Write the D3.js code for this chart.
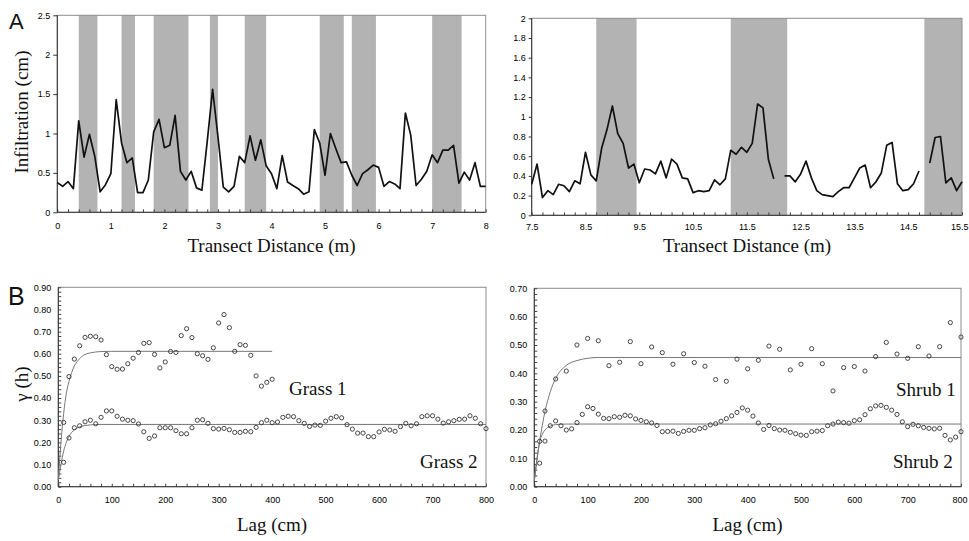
<!DOCTYPE html>
<html>
<head>
<meta charset="utf-8">
<script src="https://cdn.jsdelivr.net/npm/d3@7/dist/d3.min.js"></script>
<style>
  body { margin: 0; background: #fff; }
  svg { display: block; }
  .tick text { font-family: "Liberation Sans", Arial, sans-serif; font-size: 9px; fill: #000; }
  .ttl { font-family: "Liberation Serif", "Times New Roman", serif; font-size: 19px; fill: #111; }
  .lbl { font-family: "Liberation Sans", Arial, sans-serif; fill: #111; }
</style>
</head>
<body>
<svg id="fig" width="969" height="541"></svg>
<script>

/* Panel A: infiltration along the transect (0.1 m sampling) */
const distLeftStart = 0, distRightStart = 7.5, distStep = 0.1;

const infilLeft = [0.376, 0.33, 0.39, 0.30, 1.16, 0.70, 0.99, 0.71, 0.26, 0.35,
    0.49, 1.43, 0.88, 0.63, 0.69, 0.25, 0.25, 0.41, 1.02, 1.18,
    0.82, 0.85, 1.23, 0.52, 0.41, 0.52, 0.31, 0.28, 0.90, 1.56,
    0.96, 0.32, 0.26, 0.33, 0.71, 0.63, 0.97, 0.66, 0.92, 0.59,
    0.49, 0.30, 0.72, 0.385, 0.34, 0.30, 0.23, 0.26, 1.05, 0.88,
    0.47, 1.00, 0.81, 0.63, 0.64, 0.47, 0.34, 0.49, 0.54, 0.60,
    0.57, 0.33, 0.39, 0.36, 0.30, 1.26, 0.98, 0.34, 0.42, 0.52,
    0.73, 0.63, 0.79, 0.79, 0.85, 0.37, 0.51, 0.41, 0.63, 0.33,
    0.33];

const infilRight = [0.315, 0.52, 0.18, 0.25, 0.21,
    0.315, 0.30, 0.24, 0.35, 0.32, 0.64, 0.41, 0.35, 0.68, 0.87,
    1.11, 0.83, 0.73, 0.48, 0.52, 0.33, 0.47, 0.46, 0.42, 0.55,
    0.38, 0.57, 0.52, 0.38, 0.37, 0.23, 0.25, 0.24, 0.25, 0.36,
    0.31, 0.37, 0.66, 0.62, 0.69, 0.64, 0.73, 1.13, 1.09, 0.57,
    0.37, null, 0.40, 0.40, 0.34, 0.42, 0.55, 0.38, 0.25, 0.21,
    0.20, 0.19, 0.24, 0.28, 0.28, 0.38, 0.48, 0.51, 0.28, 0.34,
    0.43, 0.71, 0.74, 0.32, 0.25, 0.26, 0.32, 0.45, null, 0.53,
    0.79, 0.80, 0.33, 0.38, 0.25, 0.34];

// shaded (vegetated) stretches
const bandStartLeft = [0.4, 1.2, 1.8, 2.85, 3.5, 4.9, 5.5, 7.0];
const bandEndLeft   = [0.75, 1.45, 2.45, 3.0, 3.9, 5.35, 5.95, 7.55];
const bandStartRight = [8.7, 11.2, 14.8];
const bandEndRight   = [9.45, 12.25, 15.5];

const ticksAxLeft = [0, 1, 2, 3, 4, 5, 6, 7, 8];
const ticksAyLeft = [0, 0.5, 1, 1.5, 2, 2.5];
const ticksAxRight = [7.5, 8.5, 9.5, 10.5, 11.5, 12.5, 13.5, 14.5, 15.5];
const ticksAyRight = [0, 0.2, 0.4, 0.6, 0.8, 1, 1.2, 1.4, 1.6, 1.8, 2];

/* Panel B: semivariograms */
const lagStep = 10;
const grass1 = [0.29, 0.497, 0.576, 0.636, 0.674, 0.679, 0.677, 0.662, 0.596, 0.542,
    0.53, 0.531, 0.555, 0.58, 0.606, 0.647, 0.65, 0.597, 0.536, 0.563,
    0.61, 0.606, 0.682, 0.713, 0.673, 0.60, 0.591, 0.575, 0.627, 0.739,
    0.777, 0.718, 0.611, 0.641, 0.638, 0.593, 0.50, 0.454, 0.471, 0.485];
const grass2 = [0.11, 0.22, 0.266, 0.275, 0.293, 0.30, 0.284, 0.313, 0.342, 0.342,
    0.318, 0.305, 0.30, 0.298, 0.283, 0.248, 0.218, 0.229, 0.266, 0.266,
    0.266, 0.253, 0.239, 0.239, 0.266, 0.30, 0.302, 0.286, 0.262, 0.26,
    0.263, 0.257, 0.245, 0.245, 0.25, 0.248, 0.268, 0.289, 0.30, 0.289,
    0.292, 0.313, 0.318, 0.316, 0.298, 0.286, 0.272, 0.278, 0.277, 0.296,
    0.309, 0.316, 0.311, 0.28, 0.26, 0.242, 0.242, 0.226, 0.226, 0.247,
    0.259, 0.256, 0.25, 0.271, 0.286, 0.275, 0.284, 0.316, 0.32, 0.32,
    0.305, 0.287, 0.293, 0.298, 0.304, 0.305, 0.32, 0.309, 0.284, 0.262];

const shrub1Lag = [10, 20, 40, 60, 80, 100, 120, 140, 160, 180, 200, 220, 240, 260,
    280, 300, 320, 340, 360, 380, 400, 420, 440, 460, 480, 500, 520, 540,
    560, 580, 600, 620, 640, 660, 680, 700, 720, 740, 760, 780, 800];
const shrub1 = [0.16, 0.267, 0.38, 0.408, 0.50, 0.523, 0.515, 0.427, 0.439, 0.512,
    0.434, 0.493, 0.473, 0.432, 0.469, 0.438, 0.425, 0.378, 0.372, 0.45,
    0.416, 0.446, 0.496, 0.485, 0.412, 0.432, 0.487, 0.434, 0.338, 0.42,
    0.424, 0.408, 0.459, 0.509, 0.468, 0.453, 0.494, 0.461, 0.494, 0.579, 0.528];
const shrub2 = [0.083, 0.161, 0.215, 0.232, 0.215, 0.20, 0.204, 0.226, 0.255, 0.282,
    0.276, 0.256, 0.241, 0.24, 0.247, 0.245, 0.252, 0.25, 0.239, 0.234,
    0.229, 0.225, 0.216, 0.194, 0.195, 0.196, 0.188, 0.195, 0.199, 0.199,
    0.205, 0.208, 0.218, 0.222, 0.231, 0.24, 0.25, 0.262, 0.278, 0.27,
    0.249, 0.225, 0.202, 0.216, 0.205, 0.20, 0.199, 0.192, 0.187, 0.182,
    0.181, 0.194, 0.196, 0.198, 0.215, 0.221, 0.228, 0.226, 0.224, 0.233,
    0.236, 0.254, 0.275, 0.285, 0.287, 0.28, 0.27, 0.255, 0.229, 0.212,
    0.22, 0.215, 0.209, 0.206, 0.204, 0.206, 0.181, 0.165, 0.175, 0.194];

// fitted models
const grass1FitLag = [0, 5, 10, 15, 20, 25, 30, 40, 50, 60, 80, 100, 400];
const grass1FitVal = [0.03, 0.2, 0.33, 0.42, 0.475, 0.515, 0.545, 0.578, 0.597, 0.604, 0.61, 0.611, 0.611];
const grass2FitLag = [0, 5, 10, 15, 20, 30, 40, 50, 60, 80, 800];
const grass2FitVal = [0.03, 0.10, 0.16, 0.20, 0.228, 0.256, 0.27, 0.276, 0.279, 0.281, 0.281];
const shrub1FitLag = [0, 10, 20, 30, 40, 60, 80, 100, 120, 800];
const shrub1FitVal = [0.02, 0.16, 0.265, 0.335, 0.382, 0.428, 0.445, 0.453, 0.456, 0.456];
const shrub2FitLag = [0, 5, 10, 15, 20, 30, 40, 60, 800];
const shrub2FitVal = [0.02, 0.10, 0.158, 0.185, 0.20, 0.214, 0.219, 0.221, 0.221];

const ticksBx = [0, 100, 200, 300, 400, 500, 600, 700, 800];
const ticksByLeft = [0, 0.1, 0.2, 0.3, 0.4, 0.5, 0.6, 0.7, 0.8, 0.9];
const ticksByRight = [0, 0.1, 0.2, 0.3, 0.4, 0.5, 0.6, 0.7];


let svg = d3.select("#fig");

// frame + axes for one panel
function drawFrame(g, xScale, yScale, o) {
    let [x0, x1] = xScale.range(), [y0, y1] = yScale.range();

    g.append("rect")
        .attr("x", x0).attr("y", y1)
        .attr("width", x1 - x0).attr("height", y0 - y1)
        .attr("fill", "none").attr("stroke", "#8c8c8c").attr("stroke-width", 1);

    // labels
    let xLab = g.append("g")
        .attr("transform", `translate(0,${y0})`)
        .call(d3.axisBottom(xScale).tickValues(o.xTicks).tickSize(0).tickPadding(o.xPad).tickFormat(o.xFmt));
    let yLab = g.append("g")
        .attr("transform", `translate(${x0},0)`)
        .call(d3.axisLeft(yScale).tickValues(o.yTicks).tickSize(o.yOut).tickPadding(o.yPad).tickFormat(o.yFmt));
    xLab.select(".domain").remove();
    yLab.select(".domain").remove();
    yLab.selectAll(".tick line").attr("stroke", "#333");
    // last label would run off the page edge
    if (x1 > 950) {
        xLab.selectAll(".tick text").filter((d, i, n) => i === n.length - 1)
            .attr("text-anchor", "end").attr("dx", 6);
    }

    // small tick marks pointing into the plot
    let xMin = g.append("g")
        .attr("transform", `translate(0,${y0})`)
        .call(d3.axisBottom(xScale).tickValues(o.xMinor).tickSizeInner(-3).tickSizeOuter(0).tickFormat(""));
    xMin.select(".domain").remove();
    xMin.selectAll("line").attr("stroke", "#444");
    if (o.yMinor) {
        let yMin = g.append("g")
            .attr("transform", `translate(${x0},0)`)
            .call(d3.axisLeft(yScale).tickValues(o.yMinor).tickSizeInner(-3).tickSizeOuter(0).tickFormat(""));
        yMin.select(".domain").remove();
        yMin.selectAll("line").attr("stroke", "#444");
    }

    g.append("line").attr("x1", x0).attr("x2", x1).attr("y1", y0).attr("y2", y0)
        .attr("stroke", "#333").attr("stroke-width", 1);
    g.append("line").attr("x1", x0).attr("x2", x0).attr("y1", y0).attr("y2", y1)
        .attr("stroke", "#333").attr("stroke-width", 1);
}

/* ---- A ---- */
function transect(xRange, yRange, xDomain, yMax, values, start, bandS, bandE, o) {
    let xScale = d3.scaleLinear().domain(xDomain).range(xRange);
    let yScale = d3.scaleLinear().domain([0, yMax]).range(yRange);
    let g = svg.append("g");

    g.selectAll(".band")
        .data(bandS)
        .enter()
        .append("rect")
        .attr("x", (d) => xScale(d))
        .attr("y", yScale(yMax))
        .attr("width", (d, i) => xScale(bandE[i]) - xScale(d))
        .attr("height", yScale(0) - yScale(yMax))
        .attr("fill", "#b3b3b3");

    drawFrame(g, xScale, yScale, o);

    g.append("path")
        .datum(values)
        .attr("fill", "none")
        .attr("stroke", "#111")
        .attr("stroke-width", 1.7)
        .attr("stroke-linejoin", "round")
        .attr("d", d3.line()
            .defined((d) => d !== null)
            .x((d, i) => xScale(start + i * distStep))
            .y((d) => yScale(d)));
}

function minorRange(a, b, step) {
    let out = [];
    for (let v = a; v <= b + 1e-9; v += step) out.push(+v.toFixed(4));
    return out;
}

transect([57.3, 485.7], [212.3, 15.3], [0, 8], 2.5, infilLeft, distLeftStart,
    bandStartLeft, bandEndLeft,
    { xTicks: ticksAxLeft, yTicks: ticksAyLeft, xPad: 10, yPad: 3, yOut: 4,
      xFmt: d3.format("~g"), yFmt: d3.format("~g"), xMinor: minorRange(0, 8, 0.2) });

transect([531.7, 962], [215.3, 18.3], [7.5, 15.5], 2, infilRight, distRightStart,
    bandStartRight, bandEndRight,
    { xTicks: ticksAxRight, yTicks: ticksAyRight, xPad: 8, yPad: 3, yOut: 3,
      xFmt: d3.format("~g"), yFmt: d3.format("~g"), xMinor: minorRange(7.5, 15.5, 0.2) });

/* ---- B ---- */
function variogram(xRange, yRange, yMax, series, fits, o) {
    let xScale = d3.scaleLinear().domain([0, 800]).range(xRange);
    let yScale = d3.scaleLinear().domain([0, yMax]).range(yRange);
    let g = svg.append("g");

    drawFrame(g, xScale, yScale, o);

    fits.forEach(function (f) {
        g.append("path")
            .datum(f.lag)
            .attr("fill", "none")
            .attr("stroke", "#777")
            .attr("stroke-width", 1)
            .attr("d", d3.line()
                .curve(d3.curveMonotoneX)
                .x((d) => xScale(d))
                .y((d, i) => yScale(f.val[i])));
    });

    series.forEach(function (s) {
        g.selectAll(null)
            .data(s.val)
            .enter()
            .append("circle")
            .attr("cx", (d, i) => xScale(s.lag ? s.lag[i] : (i + 1) * lagStep))
            .attr("cy", (d) => yScale(d))
            .attr("r", 2.1)
            .attr("fill", "none")
            .attr("stroke", "#333")
            .attr("stroke-width", 0.9);
    });
}

variogram([58.3, 486], [486.7, 287.3], 0.9,
    [{ val: grass1 }, { val: grass2 }],
    [{ lag: grass1FitLag, val: grass1FitVal }, { lag: grass2FitLag, val: grass2FitVal }],
    { xTicks: ticksBx, yTicks: ticksByLeft, xPad: 10, yPad: 7, yOut: 0,
      xFmt: d3.format("d"), yFmt: d3.format(".2f"),
      xMinor: minorRange(0, 800, 20), yMinor: minorRange(0, 0.9, 0.02) });

variogram([534.3, 961], [486.7, 288.3], 0.7,
    [{ val: shrub1, lag: shrub1Lag }, { val: shrub2 }],
    [{ lag: shrub1FitLag, val: shrub1FitVal }, { lag: shrub2FitLag, val: shrub2FitVal }],
    { xTicks: ticksBx, yTicks: ticksByRight, xPad: 10, yPad: 7, yOut: 0,
      xFmt: d3.format("d"), yFmt: d3.format(".2f"),
      xMinor: minorRange(0, 800, 20), yMinor: minorRange(0, 0.7, 0.02) });

// titles
svg.append("text").attr("class", "ttl").attr("x", 271.5).attr("y", 252).attr("text-anchor", "middle").text("Transect Distance (m)");
svg.append("text").attr("class", "ttl").attr("x", 747).attr("y", 252).attr("text-anchor", "middle").text("Transect Distance (m)");
svg.append("text").attr("class", "ttl").attr("x", 272).attr("y", 531).attr("text-anchor", "middle").text("Lag (cm)");
svg.append("text").attr("class", "ttl").attr("x", 747.5).attr("y", 531).attr("text-anchor", "middle").text("Lag (cm)");
svg.append("text").attr("class", "ttl").attr("transform", "translate(28,112) rotate(-90)").attr("text-anchor", "middle").text("Infiltration (cm)");
svg.append("text").attr("class", "ttl").attr("transform", "translate(28,384) rotate(-90)").attr("text-anchor", "middle").text("γ (h)");

svg.append("text").attr("class", "ttl").attr("x", 289).attr("y", 395).text("Grass 1");
svg.append("text").attr("class", "ttl").attr("x", 420).attr("y", 468).text("Grass 2");
svg.append("text").attr("class", "ttl").attr("x", 896).attr("y", 396).text("Shrub 1");
svg.append("text").attr("class", "ttl").attr("x", 893).attr("y", 468).text("Shrub 2");

svg.append("text").attr("class", "lbl").attr("x", 9).attr("y", 29).attr("font-size", 22).text("A");
svg.append("text").attr("class", "lbl").attr("x", 8).attr("y", 305).attr("font-size", 25).text("B");

</script>
</body>
</html>
